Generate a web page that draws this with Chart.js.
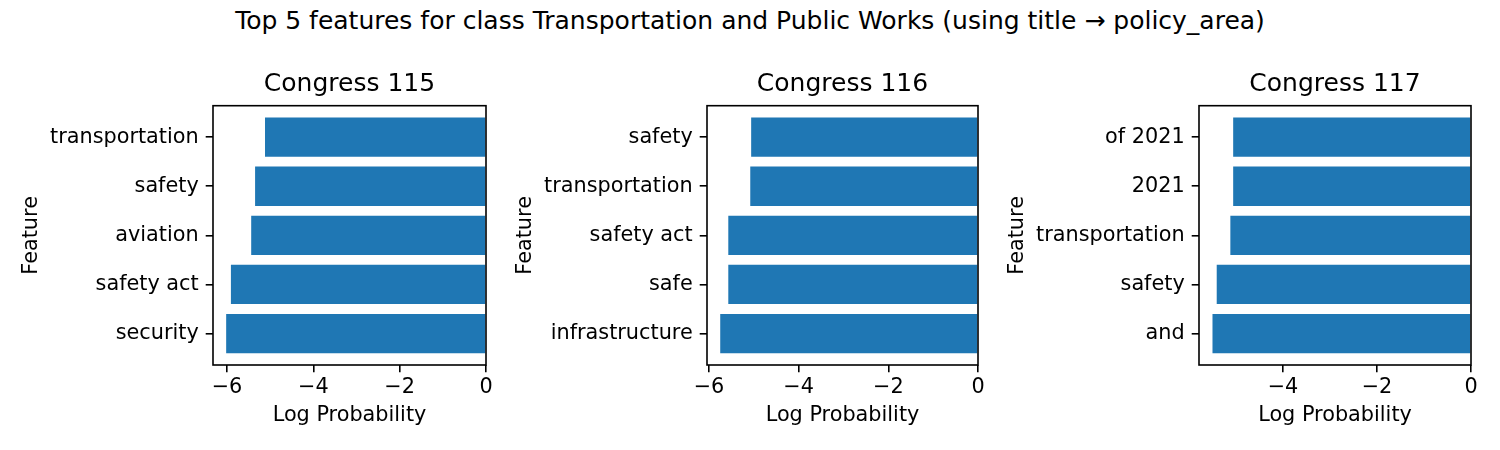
<!DOCTYPE html>
<html>
<head>
<meta charset="utf-8">
<script src="https://cdn.jsdelivr.net/npm/chart.js@4"></script>
<style>
    html, body { margin: 0; padding: 0; background: #fff; overflow: hidden; }
    body { width: 1500px; height: 450px; position: relative; }
    #suptitle {
        position: absolute; left: 0; top: 6px; width: 1500px;
        text-align: center; font: 25px 'DejaVu Sans'; line-height: 30px; color: #000;
    }
    canvas { position: absolute; top: 0; }
</style>
</head>
<body>
<div id="suptitle">Top 5 features for class Transportation and Public Works (using title → policy_area)</div>
<canvas id="c115" width="487" height="450" style="left:19px"></canvas>
<canvas id="c116" width="485" height="450" style="left:513px"></canvas>
<canvas id="c117" width="486" height="450" style="left:1005px"></canvas>
<script>
// top-to-bottom order as shown in each panel
const features115 = ['transportation', 'safety', 'aviation', 'safety act', 'security'];
const logProb115 = [-5.12, -5.35, -5.44, -5.91, -6.02];
const xTicks115 = [-6, -4, -2, 0];

const features116 = ['safety', 'transportation', 'safety act', 'safe', 'infrastructure'];
const logProb116 = [-5.06, -5.08, -5.57, -5.57, -5.75];
const xTicks116 = [-6, -4, -2, 0];

const features117 = ['of 2021', '2021', 'transportation', 'safety', 'and'];
const logProb117 = [-5.06, -5.06, -5.12, -5.41, -5.50];
const xTicks117 = [-4, -2, 0];

const xLimits = { c115: -6.325, c116: -6.045, c117: -5.787 };

Chart.defaults.font.family = "'DejaVu Sans'";
Chart.defaults.font.size = 20.8;
Chart.defaults.color = '#000';

const AXIS_W = 194;
const LINE = 1.6;

// matplotlib-style box around the axes
const framePlugin = {
    id: 'frame',
    afterDatasetsDraw(chart) {
        const { ctx, chartArea: a } = chart;
        ctx.save();
        ctx.strokeStyle = '#000';
        ctx.lineWidth = LINE;
        ctx.strokeRect(a.left, a.top, a.right - a.left, a.bottom - a.top);
        ctx.restore();
    }
};

function makeChart(id, title, features, values, xTicks) {
    const ctx = document.getElementById(id);
    return new Chart(ctx, {
        type: 'bar',
        data: {
            datasets: [{
                data: values.map((v, i) => ({ x: v, y: i })),
                backgroundColor: '#1f77b4',
                borderWidth: 0,
                barPercentage: 0.8,
                categoryPercentage: 1.0
            }]
        },
        options: {
            indexAxis: 'y',
            responsive: false,
            animation: false,
            devicePixelRatio: 1,
            layout: { padding: { left: 0, right: 20, top: 60, bottom: 21.5 } },
            plugins: {
                legend: { display: false },
                tooltip: { enabled: false },
                title: {
                    display: true,
                    text: title,
                    fullSize: false,
                    color: '#000',
                    font: { size: 25, weight: 'normal' },
                    padding: { top: 9, bottom: 6.7 }
                }
            },
            scales: {
                x: {
                    type: 'linear',
                    min: xLimits[id],
                    max: 0,
                    afterBuildTicks: axis => { axis.ticks = xTicks.map(v => ({ value: v })); },
                    afterFit: axis => { axis.height = 63.5; },
                    ticks: {
                        padding: 3,
                        maxRotation: 0,
                        callback: v => v === 0 ? '0' : '\u2212' + Math.abs(v)
                    },
                    grid: { drawOnChartArea: false, drawTicks: true, tickLength: 7.3, color: '#000', lineWidth: LINE },
                    border: { display: false },
                    title: { display: true, text: 'Log Probability', padding: 0 }
                },
                y: {
                    type: 'linear',
                    reverse: true,
                    offset: false,
                    min: -0.64,
                    max: 4.64,
                    afterBuildTicks: axis => { axis.ticks = features.map((f, i) => ({ value: i })); },
                    afterFit: axis => { axis.width = AXIS_W; },
                    ticks: {
                        padding: 7,
                        callback: v => features[v]
                    },
                    grid: { offset: false, drawOnChartArea: false, drawTicks: true, tickLength: 7.3, color: '#000', lineWidth: LINE },
                    border: { display: false },
                    title: { display: true, text: 'Feature', padding: 0 }
                }
            }
        },
        plugins: [framePlugin]
    });
}

makeChart('c115', 'Congress 115', features115, logProb115, xTicks115);
makeChart('c116', 'Congress 116', features116, logProb116, xTicks116);
makeChart('c117', 'Congress 117', features117, logProb117, xTicks117);
</script>
</body>
</html>
